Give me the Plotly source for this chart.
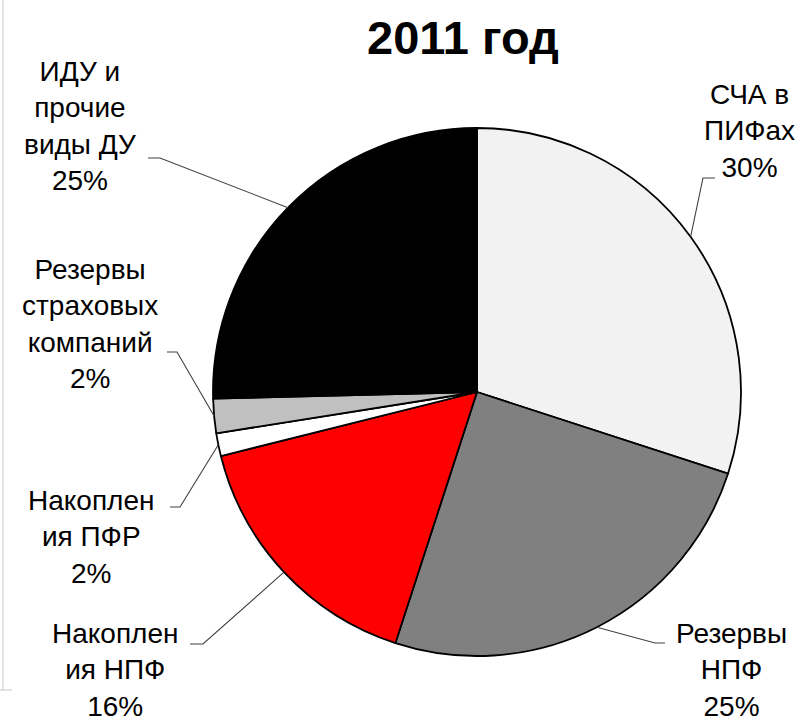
import math
import plotly.graph_objects as go

# ---- data ----
categories = ["СЧА в ПИФах", "Резервы НПФ", "Накопления НПФ",
              "Накопления ПФР", "Резервы страховых компаний", "ИДУ и прочие виды ДУ"]
values = [30.0, 25.0, 16.1, 1.4, 2.1, 25.4]
label_lines = ["СЧА в<br>ПИФах", "Резервы<br>НПФ", "Накоплен<br>ия НПФ",
               "Накоплен<br>ия ПФР", "Резервы<br>страховых<br>компаний", "ИДУ и<br>прочие<br>виды ДУ"]
pct_labels = ["30%", "25%", "16%", "2%", "2%", "25%"]
colors = ["#f2f2f2", "#808080", "#ff0000", "#ffffff", "#c0c0c0", "#000000"]

# ---- layout geometry (pixels) ----
W, H = 804, 721
CX, CY, R = 477, 392, 264
label_pos = [(749, 131), (731, 670), (115, 670), (91, 537), (90, 324), (80, 126)]
elbows = [((715, 178), (703, 178)), ((665, 643), (655, 643)), ((190, 644), (203, 644)),
          ((170, 507), (180, 507)), ((167, 352), (177, 352)), ((148, 158), (160, 158))]

def px(x):
    return x / W

def py(y):
    return 1 - y / H

fig = go.Figure(go.Pie(
    labels=categories, values=values, sort=False, direction="clockwise", rotation=0,
    marker=dict(colors=colors, line=dict(color="#000000", width=1.8)),
    textinfo="none", hoverinfo="label+percent", showlegend=False,
    domain=dict(x=[px(CX - R), px(CX + R)], y=[py(CY + R), py(CY - R)]),
))

annotations = [dict(text="<b>2011 год</b>", x=px(463), y=py(38), xref="paper", yref="paper",
                    showarrow=False, xanchor="center", yanchor="middle",
                    font=dict(family="Liberation Sans, Arial, sans-serif", size=47, color="#000"))]
shapes = []
total = sum(values)
cum = 0.0
for i, v in enumerate(values):
    theta = math.radians(360 * (cum + v / 2) / total)
    cum += v
    ex = CX + R * math.sin(theta)
    ey = CY - R * math.cos(theta)
    (ax0, ay0), (ax1, ay1) = elbows[i]
    shapes.append(dict(type="path", xref="paper", yref="paper",
                       path=f"M {px(ax0)},{py(ay0)} L {px(ax1)},{py(ay1)} L {px(ex)},{py(ey)}",
                       line=dict(color="#404040", width=1.1)))
    lx, ly = label_pos[i]
    annotations.append(dict(text=label_lines[i] + "<br>" + pct_labels[i],
                            x=px(lx), y=py(ly), xref="paper", yref="paper",
                            showarrow=False, xanchor="center", yanchor="middle", align="center",
                            font=dict(family="Liberation Sans, Arial, sans-serif", size=28, color="#000")))

# frame remnants at left edge
shapes.append(dict(type="line", xref="paper", yref="paper", x0=px(3), x1=px(3), y0=1, y1=py(690),
                   line=dict(color="#c8c8c8", width=1)))
shapes.append(dict(type="line", xref="paper", yref="paper", x0=0, x1=px(12), y0=py(690), y1=py(690),
                   line=dict(color="#c8c8c8", width=1)))

fig.update_layout(width=W, height=H, margin=dict(l=0, r=0, t=0, b=0),
                  paper_bgcolor="white", plot_bgcolor="white",
                  annotations=annotations, shapes=shapes)
fig.write_html("out.html", config={"displayModeBar": False},
               post_script="document.body.style.margin='0';document.body.style.padding='0';")
